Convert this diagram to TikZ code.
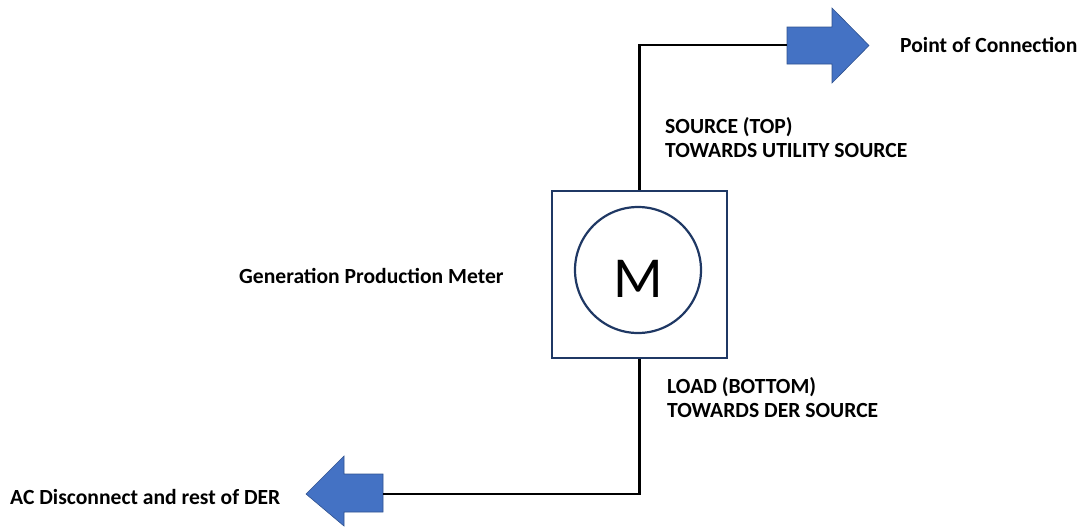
\documentclass[tikz,border=0pt]{standalone}
\usepackage{fontspec}
\setmainfont{Carlito}
\definecolor{meterline}{HTML}{1F3864}
\definecolor{arrowfill}{HTML}{4472C4}
\definecolor{arrowedge}{HTML}{2F528F}
\tikzset{
  wire/.style={draw=black, line width=2.6pt},
  meterbox/.style={draw=meterline, line width=2.2pt, minimum width=175pt, minimum height=167pt, inner sep=0pt},
  meterdial/.style={draw=meterline, line width=2.2pt, circle, minimum size=126pt, inner sep=0pt},
  blockarrow/.style={fill=arrowfill, draw=arrowedge, line width=0.6pt},
  label/.style={font=\bfseries\fontsize{21.6}{23.5}\selectfont, inner sep=0pt, align=left},
}
\begin{document}
\begin{tikzpicture}[x=1pt, y=-1pt]
  \useasboundingbox (0,0) rectangle (1084,531);
  % meter enclosure and dial
  \node[meterbox] (meter) at (639.5,274.5) {};
  \node[meterdial] (dial) at (638,270) {};
  \node[font=\fontsize{58}{58}\selectfont, inner sep=0pt, anchor=base] (mlabel) at (638,297) {M};
  % block arrows at both ends of the line
  \path[blockarrow] (787,27) -- (832,27) -- (832,8) -- (869,45.5) -- (832,83) -- (832,64) -- (787,64) -- cycle;
  \coordinate (poc) at (787,45);
  \path[blockarrow] (383,474) -- (344,474) -- (344,456) -- (306,494) -- (344,526) -- (344,512) -- (383,512) -- cycle;
  \coordinate (der) at (383,494);
  % connections
  \draw[wire] (meter.north) |- (poc);
  \draw[wire] (meter.south) |- (der);
  % labels (two-line labels are placed by the baseline of their last line)
  \node[label, anchor=base west] (poclabel) at (900,52) {Point of Connection};
  \node[label, anchor=base west] (derlabel) at (10,504) {AC Disconnect and rest of DER};
  \node[label, anchor=base west] (meterlabel) at (239,283) {Generation Production Meter};
  \node[label, anchor=base west] (srclabel) at (665,157) {SOURCE (TOP)\\TOWARDS UTILITY SOURCE};
  \node[label, anchor=base west] (loadlabel) at (667,417) {LOAD (BOTTOM)\\TOWARDS DER SOURCE};
\end{tikzpicture}
\end{document}
